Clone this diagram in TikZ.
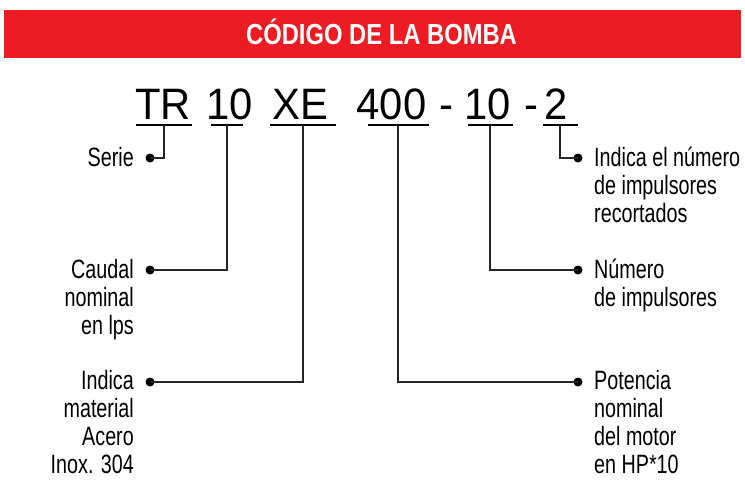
\documentclass[tikz,border=0pt]{standalone}
\usepackage{fontspec}
\setmainfont{Liberation Sans}
\newfontfamily\lblfont[FakeStretch=0.745]{Liberation Sans}
\newfontfamily\codefont[FakeStretch=0.95]{Liberation Sans}
\newfontfamily\titlefont[FakeStretch=0.82]{Liberation Sans}
\definecolor{bannerred}{HTML}{ED1C24}
\newcommand{\fl}{\rule{0pt}{22pt}}
\begin{document}
\begin{tikzpicture}[x=1pt,y=-1pt,
  codepart/.style={font=\codefont\fontsize{44}{44}\selectfont, anchor=base, inner sep=0pt},
  ubar/.style={rectangle, fill=black, inner sep=0pt, minimum height=2.5pt},
  conn/.style={line width=1.4pt, draw=black!85},
  dotc/.style={circle, fill=black, inner sep=0pt, minimum size=9pt},
  lbl/.style={font=\lblfont\fontsize{26.5}{28}\selectfont, inner sep=0pt},
  leftlbl/.style={lbl, align=right, anchor=north east},
  rightlbl/.style={lbl, align=left, anchor=north west}]
\useasboundingbox (0,0) rectangle (745,480);
% banner
\node[rectangle, fill=bannerred, inner sep=0pt, minimum width=737pt, minimum height=48pt, anchor=north west] (banner) at (4,10) {};
\node[font=\titlefont\bfseries\fontsize{29}{29}\selectfont, text=white, anchor=base, inner sep=0pt] (title) at (381.5,44) {CÓDIGO DE LA BOMBA};
% code parts
\node[codepart] (cTR) at (163,119) {TR};
\node[codepart] (cQ) at (230,119) {10};
\node[codepart] (cXE) at (300,119) {XE};
\node[codepart] (cP) at (391.5,119) {400};
\node[codepart] (h1) at (446,119) {-};
\node[codepart] (cN) at (488,119) {10};
\node[codepart] (h2) at (531,119) {-};
\node[codepart] (cR) at (556.5,119) {2};
% underlines
\node[ubar, minimum width=56pt] (bTR) at (164,125) {};
\node[ubar, minimum width=32pt] (bQ) at (227,125) {};
\node[ubar, minimum width=66pt] (bXE) at (303,125) {};
\node[ubar, minimum width=61pt] (bP) at (398,125) {};
\node[ubar, minimum width=45pt] (bN) at (490,125) {};
\node[ubar, minimum width=35pt] (bR) at (560,125) {};
% dots
\node[dotc] (dS) at (150,158) {};
\node[dotc] (dQ) at (150,270) {};
\node[dotc] (dM) at (150,382) {};
\node[dotc] (dR) at (578,158) {};
\node[dotc] (dN) at (578,270) {};
\node[dotc] (dP) at (578,382) {};
% connectors
\draw[conn] (bTR.center) |- (dS.center);
\draw[conn] (bQ.center) |- (dQ.center);
\draw[conn] (bXE.center) |- (dM.center);
\draw[conn] (bR.center) |- (dR.center);
\draw[conn] (bN.center) |- (dN.center);
\draw[conn] (bP.center) |- (dP.center);
% labels
\node[leftlbl] (lS) at (134,144) {\fl Serie};
\node[leftlbl] (lQ) at (134,256) {\fl Caudal\\nominal\\en lps};
\node[leftlbl] (lM) at (134,367) {\fl Indica\\material\\Acero\\Inox. 304};
\node[rightlbl] (lR) at (594,144) {\fl Indica el número\\de impulsores\\recortados};
\node[rightlbl] (lN) at (594,256) {\fl Número\\de impulsores};
\node[rightlbl] (lP) at (594,367) {\fl Potencia\\nominal\\del motor\\en HP*10};
\end{tikzpicture}
\end{document}
